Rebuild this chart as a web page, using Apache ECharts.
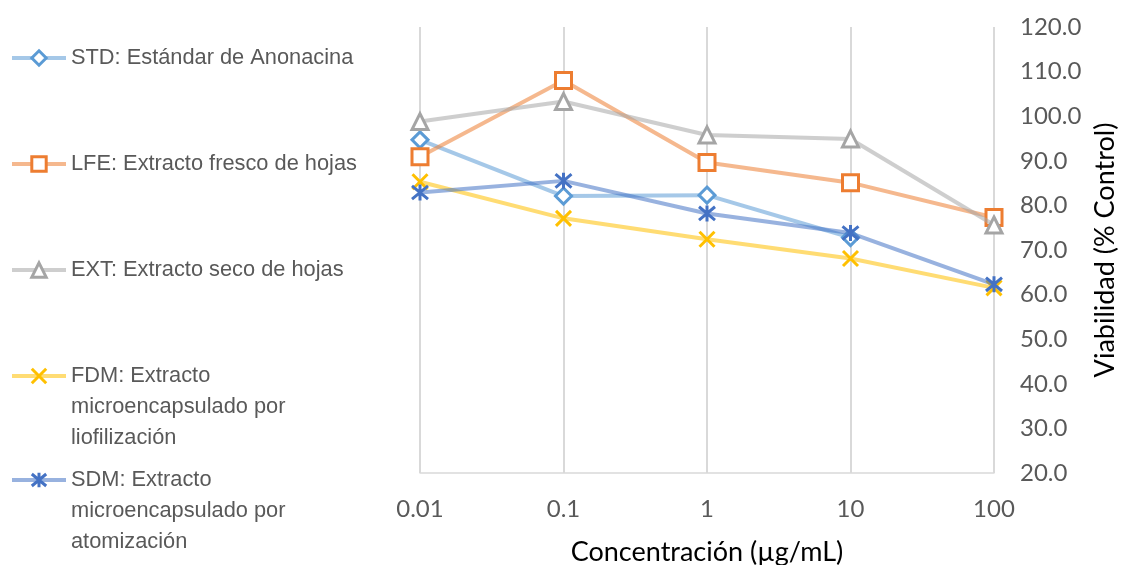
<!DOCTYPE html>
<html>
<head>
<meta charset="utf-8">
<script src="https://cdn.jsdelivr.net/npm/echarts@6/dist/echarts.min.js"></script>
<style>
  html, body { margin: 0; padding: 0; background: #fff; }
  #chart { width: 1123px; height: 565px; }
</style>
</head>
<body>
<div id="chart"></div>
<script>
// Concentrations tested (µg/mL)
const concentrations = ['0.01', '0.1', '1', '10', '100'];

// Cell viability (% of control) per sample
const stdValues = [94.7, 82.1, 82.3, 72.8, null];
const lfeValues = [90.9, 108.0, 89.6, 85.1, 77.3];
const extValues = [98.8, 103.3, 95.8, 94.9, 75.6];
const fdmValues = [85.3, 77.1, 72.4, 68.1, 61.5];
const sdmValues = [82.9, 85.5, 78.2, 73.8, 62.3];

// Series names and their wrapped legend labels
const seriesNames = [
  'STD: Estándar de Anonacina',
  'LFE: Extracto fresco de hojas',
  'EXT: Extracto seco de hojas',
  'FDM: Extracto microencapsulado por liofilización',
  'SDM: Extracto microencapsulado por atomización'
];
const legendLines = [
  ['STD: Estándar de Anonacina'],
  ['LFE: Extracto fresco de hojas'],
  ['EXT: Extracto seco de hojas'],
  ['FDM: Extracto', 'microencapsulado por', 'liofilización'],
  ['SDM: Extracto', 'microencapsulado por', 'atomización']
];
const legendCenters = [58, 164, 270, 376, 480];

const colors = ['#5b9bd5', '#ed7d31', '#a5a5a5', '#ffc000', '#4472c4'];
const crossPath = 'path://M0 0L10 10M10 0L0 10';
const starPath = 'path://M0 0L10 10M10 0L0 10M5 -1L5 11';
const symbols = ['diamond', 'rect', 'triangle', crossPath, starPath];
const symbolSizes = [16, 16, 16, 15, 16];
const valuesList = [stdValues, lfeValues, extValues, fdmValues, sdmValues];

const LINE_H = 31;
const ITEM_H = 18;

const chart = echarts.init(document.getElementById('chart'), null, { renderer: 'canvas' });

const legends = seriesNames.map((name, i) => {
  const lines = legendLines[i];
  // pad with leading blank lines so the first text line sits beside the icon
  const padded = [];
  for (let k = 1; k < lines.length; k++) padded.push(' ');
  const textLines = padded.concat(lines);
  const boxH = textLines.length * LINE_H;
  return {
    data: [name],
    left: 10,
    top: legendCenters[i] - boxH / 2,
    orient: 'vertical',
    padding: 0,
    itemWidth: 54,
    itemHeight: ITEM_H,
    selectedMode: false,
    formatter: () => textLines.join('\n'),
    lineStyle: { width: 4, opacity: 0.55 },
    itemStyle: { borderWidth: 3 },
    textStyle: {
      fontFamily: '"Liberation Sans", Arial, sans-serif',
      fontSize: 21.8,
      color: '#595959',
      lineHeight: LINE_H
    }
  };
});

const series = seriesNames.map((name, i) => {
  const isPath = i >= 3;
  return {
    name: name,
    type: 'line',
    data: valuesList[i],
    color: colors[i],
    symbol: symbols[i],
    symbolSize: symbolSizes[i],
    showAllSymbol: true,
    connectNulls: false,
    lineStyle: { width: 4, color: colors[i], opacity: 0.55 },
    itemStyle: {
      color: isPath ? colors[i] : '#ffffff',
      borderColor: colors[i],
      borderWidth: 3
    },
    emphasis: { disabled: true },
    z: 2 + i
  };
});

chart.setOption({
  animation: false,
  backgroundColor: '#ffffff',
  legend: legends,
  grid: { left: 420, right: 129, top: 27, bottom: 92, containLabel: false, outerBoundsMode: 'none' },
  xAxis: {
    type: 'category',
    data: concentrations,
    boundaryGap: false,
    name: 'Concentración (µg/mL)',
    nameLocation: 'middle',
    nameGap: 66,
    nameTextStyle: { fontFamily: 'Lato, sans-serif', fontSize: 27, color: '#000000' },
    axisLine: { show: true, lineStyle: { color: '#d9d9d9', width: 1.5 } },
    axisTick: { show: false },
    axisLabel: { margin: 24, fontFamily: 'Lato, sans-serif', fontSize: 24, color: '#595959' },
    splitLine: { show: true, lineStyle: { color: '#d9d9d9', width: 2 } }
  },
  yAxis: {
    type: 'value',
    position: 'right',
    min: 20,
    max: 120,
    interval: 10,
    name: 'Viabilidad (% Control)',
    nameLocation: 'middle',
    nameRotate: 90,
    nameGap: 97,
    nameTextStyle: { fontFamily: 'Lato, sans-serif', fontSize: 27, color: '#000000' },
    axisLine: { show: false },
    axisTick: { show: false },
    splitLine: { show: false },
    axisLabel: {
      margin: 26,
      fontFamily: 'Lato, sans-serif',
      fontSize: 24,
      color: '#595959',
      formatter: (v) => v.toFixed(1)
    }
  },
  series: series
});
</script>
</body>
</html>
